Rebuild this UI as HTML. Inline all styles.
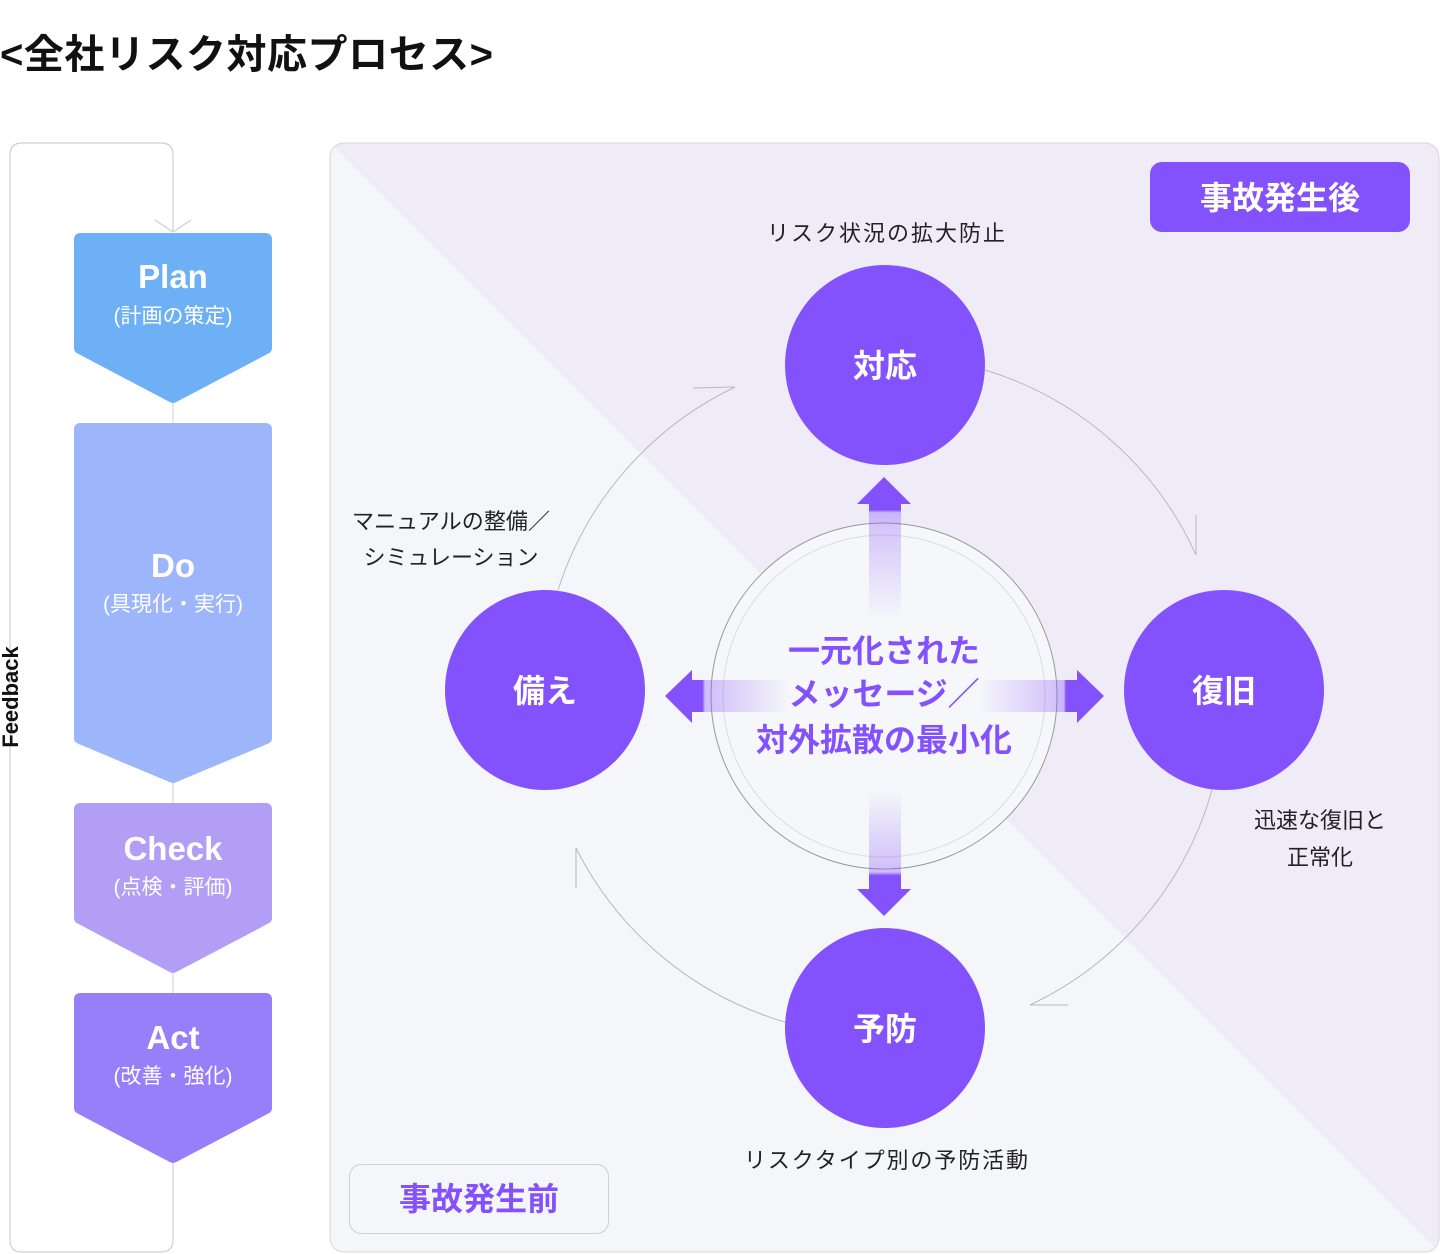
<!DOCTYPE html>
<html><head><meta charset="utf-8">
<style>
html,body{margin:0;padding:0;background:#fff;}
svg{display:block;}
text{font-family:"Liberation Sans","Noto Sans CJK JP",sans-serif;}
</style></head>
<body>
<svg width="1440" height="1254" viewBox="0 0 1440 1254" xmlns="http://www.w3.org/2000/svg">
<defs>
<clipPath id="pc"><rect x="330" y="143" width="1109" height="1109" rx="14"/></clipPath>
<linearGradient id="gu" x1="0" y1="1" x2="0" y2="0"><stop offset="0" stop-color="#8452fc" stop-opacity="0"/><stop offset="0.75" stop-color="#8452fc" stop-opacity="0.35"/><stop offset="0.77" stop-color="#8452fc" stop-opacity="1"/><stop offset="1" stop-color="#8452fc"/></linearGradient>
<linearGradient id="gd" x1="0" y1="0" x2="0" y2="1"><stop offset="0" stop-color="#8452fc" stop-opacity="0"/><stop offset="0.65" stop-color="#8452fc" stop-opacity="0.35"/><stop offset="0.68" stop-color="#8452fc" stop-opacity="1"/><stop offset="1" stop-color="#8452fc"/></linearGradient>
<linearGradient id="gl" x1="1" y1="0" x2="0" y2="0"><stop offset="0" stop-color="#8452fc" stop-opacity="0"/><stop offset="0.68" stop-color="#8452fc" stop-opacity="0.35"/><stop offset="0.7" stop-color="#8452fc" stop-opacity="1"/><stop offset="1" stop-color="#8452fc"/></linearGradient>
<linearGradient id="gr" x1="0" y1="0" x2="1" y2="0"><stop offset="0" stop-color="#8452fc" stop-opacity="0"/><stop offset="0.68" stop-color="#8452fc" stop-opacity="0.35"/><stop offset="0.7" stop-color="#8452fc" stop-opacity="1"/><stop offset="1" stop-color="#8452fc"/></linearGradient>
</defs>

<text x="0" y="68" font-size="40" font-weight="bold" fill="#111" textLength="493">&lt;全社リスク対応プロセス&gt;</text>

<!-- left PDCA -->
<path d="M173 1163 V1240 Q173 1252 161 1252 H22 Q10 1252 10 1240 V155 Q10 143 22 143 H161 Q173 143 173 155 V232" fill="none" stroke="#cfcfcf" stroke-width="1.2"/>
<polyline points="155,220 173,232 191,220" fill="none" stroke="#cfcfcf" stroke-width="1.2"/>
<line x1="173" y1="403" x2="173" y2="423" stroke="#cfcfcf"/>
<line x1="173" y1="783" x2="173" y2="803" stroke="#cfcfcf"/>
<line x1="173" y1="973" x2="173" y2="993" stroke="#cfcfcf"/>
<g stroke-linejoin="round" stroke-width="12">
<path d="M80 239 H266 V348 L173 397 L80 348 Z" fill="#6eb0f5" stroke="#6eb0f5"/>
<path d="M80 429 H266 V738 L173 777 L80 738 Z" fill="#9db5fa" stroke="#9db5fa"/>
<path d="M80 809 H266 V918 L173 967 L80 918 Z" fill="#b39ef5" stroke="#b39ef5"/>
<path d="M80 999 H266 V1108 L173 1157 L80 1108 Z" fill="#967ff9" stroke="#967ff9"/>
</g>
<g fill="#fff" text-anchor="middle">
<text x="173" y="288" font-size="33" font-weight="bold">Plan</text>
<text x="173" y="323" font-size="21">(計画の策定)</text>
<text x="173" y="577" font-size="33" font-weight="bold">Do</text>
<text x="173" y="611" font-size="21">(具現化・実行)</text>
<text x="173" y="860" font-size="33" font-weight="bold">Check</text>
<text x="173" y="894" font-size="21">(点検・評価)</text>
<text x="173" y="1049" font-size="33" font-weight="bold">Act</text>
<text x="173" y="1083" font-size="21">(改善・強化)</text>
</g>
<text transform="translate(18,697) rotate(-90)" text-anchor="middle" font-size="22" font-weight="bold" fill="#111">Feedback</text>

<!-- panel -->
<g clip-path="url(#pc)">
<rect x="330" y="143" width="1110" height="1110" fill="#f5f6f9"/>
<polygon points="330,143 1440,143 1440,1253" fill="#efecf8"/>
</g>
<rect x="330" y="143" width="1109" height="1109" rx="14" fill="none" stroke="#d6d6dc"/>

<rect x="1150" y="162" width="260" height="70" rx="12" fill="#8452fc"/>
<text x="1280" y="209" text-anchor="middle" font-size="32" font-weight="bold" fill="#fff">事故発生後</text>
<rect x="349.5" y="1164.5" width="259" height="69" rx="12" fill="#f5f6f9" stroke="#cfcfcf"/>
<text x="479" y="1210" text-anchor="middle" font-size="32" font-weight="bold" fill="#8452fc">事故発生前</text>

<!-- cycle arcs -->
<g fill="none" stroke="#b8b8be" stroke-width="1">
<path d="M558 590 A340 340 0 0 1 735 387"/>
<polyline points="693,388 735,387"/>
<path d="M985 370 A340 340 0 0 1 1196 555"/>
<polyline points="1196,515 1196,555"/>
<path d="M1212 790 A340 340 0 0 1 1030 1005"/>
<polyline points="1030,1005 1068,1005"/>
<path d="M785 1022 A340 340 0 0 1 576 848"/>
<polyline points="576,848 576,888"/>
</g>

<!-- center circle -->
<circle cx="884" cy="696" r="173" fill="#f6f7fa" stroke="#9a9a9a" stroke-width="1"/>
<circle cx="884" cy="696" r="161" fill="none" stroke="#dcdcdc" stroke-width="1"/>

<!-- arrows -->
<path d="M869 620 V504 H857 L884 477 L911 504 H901 V620 Z" fill="url(#gu)"/>
<path d="M869 790 V889 H857 L884 916 L911 889 H901 V790 Z" fill="url(#gd)"/>
<path d="M790 680 H692 V670 L665 696 L692 723 V712 H790 Z" fill="url(#gl)"/>
<path d="M978 680 H1077 V670 L1104 696 L1077 723 V712 H978 Z" fill="url(#gr)"/>

<g fill="#8452fc" text-anchor="middle" font-size="32" font-weight="bold">
<text x="884" y="662">一元化された</text>
<text x="884" y="705">メッセージ／</text>
<text x="884" y="751">対外拡散の最小化</text>
</g>

<!-- nodes -->
<g fill="#8452fc">
<circle cx="885" cy="365" r="100"/>
<circle cx="545" cy="690" r="100"/>
<circle cx="1224" cy="690" r="100"/>
<circle cx="885" cy="1028" r="100"/>
</g>
<g fill="#fff" text-anchor="middle" font-size="32" font-weight="bold">
<text x="885" y="377">対応</text>
<text x="545" y="702">備え</text>
<text x="1224" y="702">復旧</text>
<text x="885" y="1040">予防</text>
</g>

<g fill="#222" font-size="22" text-anchor="middle">
<text x="886" y="241" textLength="238">リスク状況の拡大防止</text>
<text x="451" y="529" textLength="198">マニュアルの整備／</text>
<text x="451" y="565">シミュレーション</text>
<text x="1320" y="828">迅速な復旧と</text>
<text x="1320" y="865">正常化</text>
<text x="886" y="1168" textLength="284">リスクタイプ別の予防活動</text>
</g>
</svg>
</body></html>
